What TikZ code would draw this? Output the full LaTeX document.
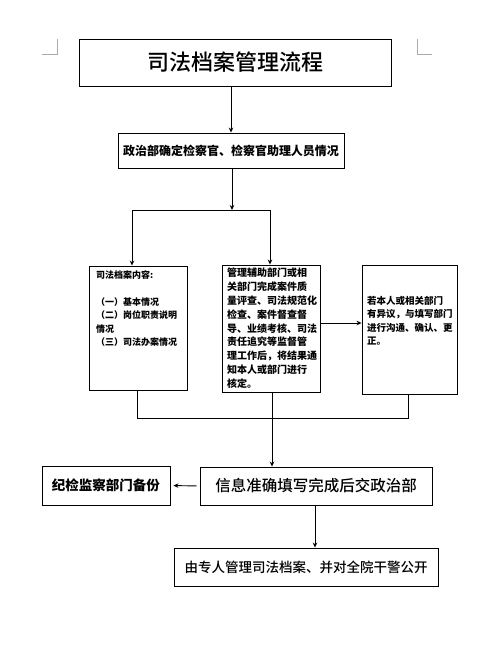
\documentclass[tikz,border=0pt]{standalone}
\usepackage{fontspec}
\setmainfont{Noto Sans CJK SC}
\newfontfamily\medfont{Noto Sans CJK SC Medium}
\usetikzlibrary{arrows.meta}
\begin{document}
\begin{tikzpicture}[x=1pt,y=-1pt,
 box/.style={draw, line width=0.9pt, inner sep=0pt},
 arr/.style={line width=0.9pt,-{Stealth[length=5pt,width=4.5pt]}},
 ln/.style={line width=0.9pt},
 corner/.style={draw=black!33, line width=0.8pt},
 txt/.style={inner sep=0pt, align=left, anchor=north west}
]
\useasboundingbox[fill=white] (0,0) rectangle (486,657);
% corner marks
\draw[corner] (42,54) -- (57,54) -- (57,39);
\draw[corner] (417,39) -- (417,54) -- (432,54);
% boxes
\node[box, minimum width=312pt, minimum height=47pt, font=\medfont\fontsize{22}{26}\selectfont] (title) at (235,62.5) {司法档案管理流程};
\node[box, minimum width=226pt, minimum height=35pt, font=\bfseries\fontsize{12}{14}\selectfont] (mid) at (231,150.5) {政治部确定检察官、检察官助理人员情况};
\node[box, minimum width=98pt, minimum height=124pt] (boxA) at (138,328) {};
\node[box, minimum width=98pt, minimum height=127pt] (boxB) at (271,328.5) {};
\node[box, minimum width=95pt, minimum height=129pt] (boxC) at (409.5,329.5) {};
\node[box, minimum width=232pt, minimum height=38pt, font=\medfont\fontsize{15.5}{18}\selectfont] (boxD) at (316,486) {信息准确填写完成后交政治部};
\node[box, minimum width=128pt, minimum height=39pt, font=\bfseries\fontsize{13.5}{16}\selectfont] (boxE) at (106,485.5) {纪检监察部门备份};
\node[box, minimum width=264pt, minimum height=38pt, font=\medfont\fontsize{13.5}{16}\selectfont] (boxF) at (306,567) {由专人管理司法档案、并对全院干警公开};
% texts inside the three middle boxes
\node[txt, font=\bfseries\fontsize{9}{13.4}\selectfont] (ta) at (96,270.5) {司法档案内容:\\[13.4pt]（一）基本情况\\（二）岗位职责说明\\情况\\（三）司法办案情况};
\node[txt, font=\bfseries\fontsize{10}{13.8}\selectfont] (tb) at (227,268) {管理辅助部门或相\\关部门完成案件质\\量评查、司法规范化\\检查、案件督查督\\导、业绩考核、司法\\责任追究等监督管\\理工作后，将结果通\\知本人或部门进行\\核定。};
\node[txt, font=\bfseries\fontsize{9.5}{13.5}\selectfont] (tc) at (367,296) {若本人或相关部门\\有异议，与填写部门\\进行沟通、确认、更\\正。};
% connectors
\coordinate (split) at (232,210);
\coordinate (sl) at (132,210);
\coordinate (sr) at (270,210);
\coordinate (bc) at (0,323);
\coordinate (jl) at (137,418);
\coordinate (jr) at (408,418);
\coordinate (jm) at (272,418);
\coordinate (df) at (315,0);
\draw[arr] (title.south -| mid.north) -- (mid.north);
\draw[arr] (mid.south -| split) -- (split);
\draw[ln] (sl) -- (sr);
\draw[arr] (sl) -- (sl |- boxA.north);
\draw[arr] (sr) -- (sr |- boxB.north);
\draw[arr] (boxB.east |- bc) -- (boxC.west |- bc);
\draw[ln] (boxA.south -| jl) -- (jl) -- (jr) -- (boxC.south -| jr);
\draw[arr] (boxB.south -| jm) -- (jm |- boxD.north);
\draw[arr, shorten <=3pt, shorten >=3pt] (boxD.west) -- (boxE.east);
\draw[arr] (boxD.south -| df) -- (boxF.north -| df);
\end{tikzpicture}
\end{document}
